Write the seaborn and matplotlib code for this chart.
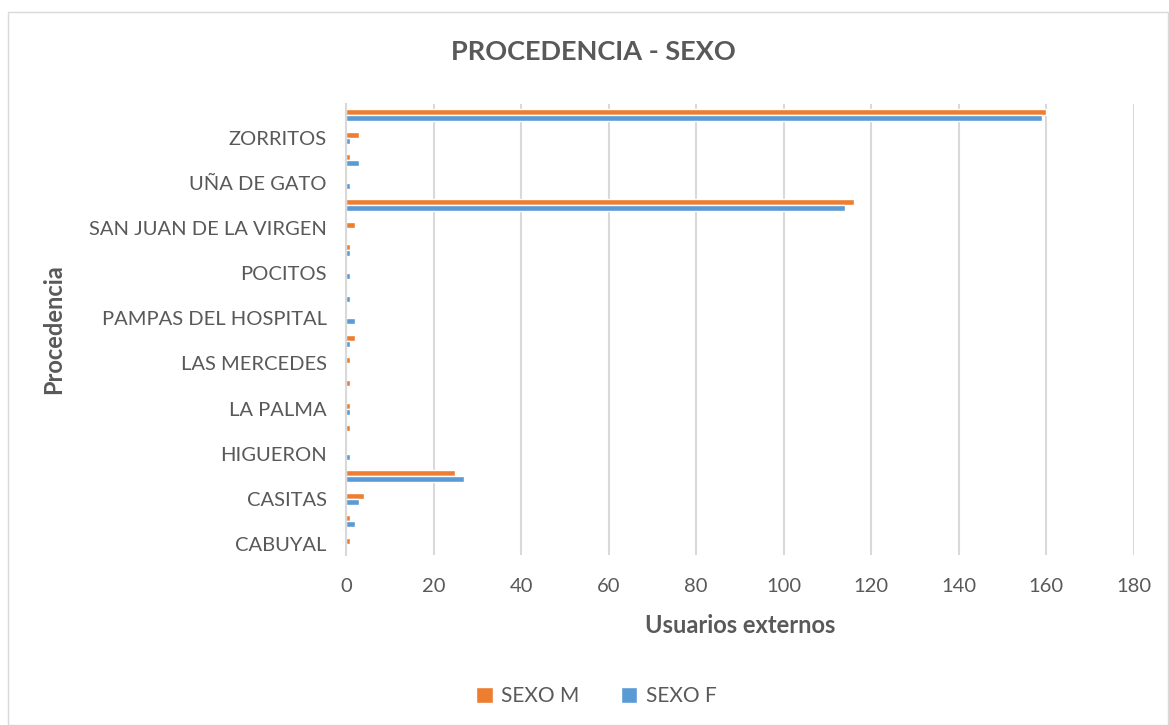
import pandas as pd
import matplotlib.pyplot as plt
from matplotlib.patches import Rectangle
import seaborn as sns

# Categories from bottom to top (as Excel draws them); hidden labels are empty
categories = ['CABUYAL', '', 'CASITAS', '', 'HIGUERON', '', 'LA PALMA', '',
              'LAS MERCEDES', '', 'PAMPAS DEL HOSPITAL', '', 'POCITOS', '',
              'SAN JUAN DE LA VIRGEN', '', 'UÑA DE GATO', '', 'ZORRITOS', '']
sexo_m = [1, 1, 4, 25, 0, 1, 1, 1, 1, 2, 0, 0, 0, 1, 2, 116, 0, 1, 3, 160]
sexo_f = [0, 2, 3, 27, 1, 0, 1, 0, 0, 1, 2, 1, 1, 1, 0, 114, 1, 3, 1, 159]
series = ['SEXO M', 'SEXO F']
colors = ['#ED7D31', '#5B9BD5']

# long format, top category first (seaborn puts first category at top)
rows = []
for i in reversed(range(len(categories))):
    rows.append({'pos': str(i), 'serie': 'SEXO M', 'valor': sexo_m[i]})
    rows.append({'pos': str(i), 'serie': 'SEXO F', 'valor': sexo_f[i]})
df = pd.DataFrame(rows)
order = [str(i) for i in reversed(range(len(categories)))]

sns.set_style('white')
plt.rcParams['font.family'] = ['Lato', 'DejaVu Sans']
txt = '#595959'

fig = plt.figure(figsize=(11.69, 7.25), dpi=100)
ax = fig.add_axes([0.296, 0.234, 0.674, 0.623])
sns.barplot(data=df, y='pos', x='valor', hue='serie', order=order,
            hue_order=series, palette=colors, orient='h', width=0.53,
            gap=0, ax=ax, saturation=1, legend=True)

ax.set_xlim(0, 180)
ax.set_xticks(range(0, 181, 20))
ax.set_yticks(range(len(order)))
ax.set_yticklabels([categories[int(p)] for p in order])
ax.tick_params(axis='both', length=0, labelsize=14.5, colors=txt)
ax.tick_params(axis='x', pad=16)
ax.tick_params(axis='y', pad=14)
ax.xaxis.grid(True, color='#d9d9d9', linewidth=1.5)
ax.set_axisbelow(True)
for s in ['top', 'right', 'bottom']:
    ax.spines[s].set_visible(False)
ax.spines['left'].set_color('#d9d9d9')
ax.spines['left'].set_linewidth(1.5)

ax.set_xlabel('Usuarios externos', fontsize=17, fontweight='bold', color=txt, labelpad=14)
ax.set_ylabel('Procedencia', fontsize=17, fontweight='bold', color=txt)
ax.yaxis.set_label_coords(-0.357, 0.5, transform=ax.transAxes)
fig.text(0.508, 0.928, 'PROCEDENCIA - SEXO', ha='center', va='center',
         fontsize=19.5, fontweight='bold', color=txt)

ax.legend(loc='center', bbox_to_anchor=(0.51, 0.04), bbox_transform=fig.transFigure,
          ncol=2, frameon=False, fontsize=15, labelcolor=txt, handlelength=0.8,
          handleheight=0.8, columnspacing=2.0, handletextpad=0.4)

fig.patches.append(Rectangle((0.007, 0.0), 0.992, 0.983, transform=fig.transFigure,
                             fill=False, edgecolor='#d9d9d9', linewidth=1))

fig.savefig('out.png', dpi=100)
